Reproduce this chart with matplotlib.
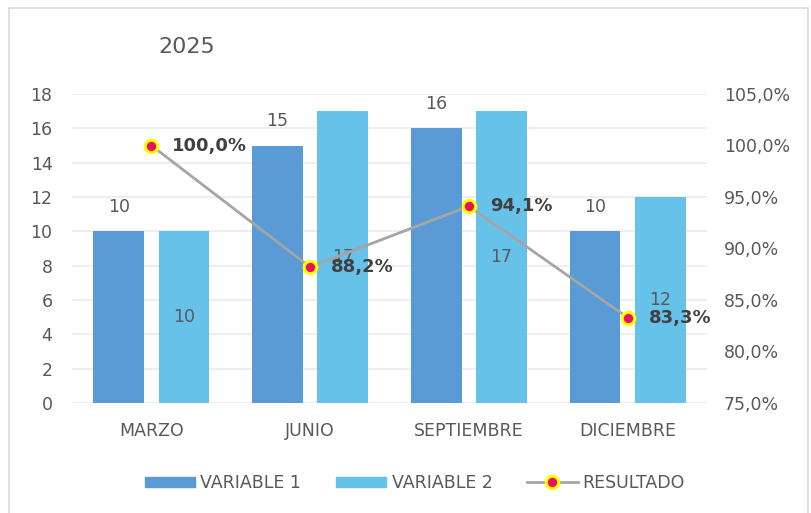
import matplotlib
matplotlib.use('Agg')
import matplotlib.pyplot as plt
import matplotlib.patches as mpatches
from matplotlib.lines import Line2D
import numpy as np

# data
meses = ['MARZO', 'JUNIO', 'SEPTIEMBRE', 'DICIEMBRE']
variable1 = [10, 15, 16, 10]
variable2 = [10, 17, 17, 12]
resultado = [100.0, 88.2, 94.1, 83.3]
titulo = '2025'

c1 = '#5B9BD5'
c2 = '#67C2EA'
cl = '#A5A5A5'
txt = '#595959'
grid = '#EEE8F2'

plt.rcParams['font.family'] = 'DejaVu Sans'

fig = plt.figure(figsize=(8.12, 5.13), dpi=100)
ax = fig.add_axes([72/812, 1-403/513, 635/812, 309/513])
ax2 = ax.twinx()

x = np.arange(len(meses))
w = 0.32
off = 0.205
b1 = ax.bar(x-off, variable1, w, color=c1, zorder=2)
b2 = ax.bar(x+off, variable2, w, color=c2, zorder=2)

for xi, v in zip(x-off, variable1):
    ax.annotate(str(v), (xi, v), xytext=(0, 11), textcoords='offset points',
                ha='center', va='bottom', fontsize=12.5, color=txt)
for xi, v in zip(x+off, variable2):
    ax.text(xi, v/2.0, str(v), ha='center', va='center', fontsize=12.5, color=txt, zorder=3)

ax.set_ylim(0, 18)
ax.set_yticks(range(0, 19, 2))
ax.set_xlim(-0.5, 3.5)
ax.set_xticks(x)
ax.set_xticklabels(meses)
ax.yaxis.grid(True, color=grid, lw=1.2, zorder=0)
ax.set_axisbelow(True)
for s in ax.spines.values():
    s.set_visible(False)
for s in ax2.spines.values():
    s.set_visible(False)
ax.tick_params(axis='both', length=0, labelsize=12.5, colors=txt)
ax.tick_params(axis='y', pad=14)
ax.tick_params(axis='x', pad=14)

ax2.plot(x, resultado, color=cl, lw=2, marker='o', ms=9,
         markerfacecolor='#E8115B', markeredgecolor='#FFFF00', markeredgewidth=2.2, zorder=4)
for xi, v in zip(x, resultado):
    ax2.annotate('{:.1f}%'.format(v).replace('.', ','), (xi, v), xytext=(15, 0),
                 textcoords='offset points', ha='left', va='center',
                 fontsize=13, fontweight='bold', color='#404040')
ax2.set_ylim(75, 105)
ax2.set_yticks(np.arange(75, 105.1, 5))
ax2.set_yticklabels(['{:.1f}%'.format(t).replace('.', ',') for t in np.arange(75, 105.1, 5)])
ax2.tick_params(axis='y', length=0, labelsize=12.5, colors=txt, pad=12)

fig.text(187/812, 1-47/513, titulo, ha='center', va='center', fontsize=16, color=txt)

handles = [mpatches.Patch(color=c1, label='VARIABLE 1'),
           mpatches.Patch(color=c2, label='VARIABLE 2'),
           Line2D([], [], color=cl, lw=2, marker='o', ms=9, markerfacecolor='#E8115B',
                  markeredgecolor='#FFFF00', markeredgewidth=2.2, label='RESULTADO')]
leg = fig.legend(handles=handles, loc='center', bbox_to_anchor=(415/812, 1-483/513), ncol=3,
                 frameon=False, fontsize=12.5, handlelength=2.9, handleheight=0.55,
                 handletextpad=0.3, columnspacing=2.0)
for t in leg.get_texts():
    t.set_color(txt)

fig.patches.append(mpatches.Rectangle((9/812, -0.05), 799/812, 1.05-8/513, transform=fig.transFigure,
                                      fill=False, edgecolor='#D9D9D9', lw=1.2))

fig.savefig('out.png', dpi=100)
